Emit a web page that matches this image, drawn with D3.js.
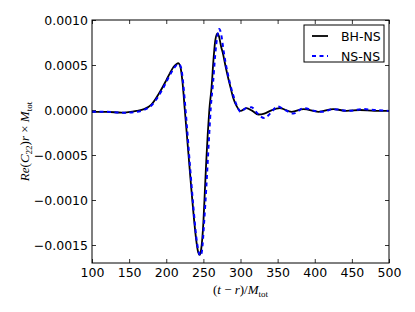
<!DOCTYPE html>
<html>
<head>
<meta charset="utf-8">
<script src="https://cdn.jsdelivr.net/npm/d3@7"></script>
<style>
  body { margin: 0; background: #fff; }
  .tick text { font-family: "DejaVu Sans", sans-serif; font-size: 12.5px; fill: #000; }
  .math { font-family: "Liberation Serif", "DejaVu Serif", serif; font-size: 13px; fill: #000; }
</style>
</head>
<body>
<div id="chart"></div>
<script>
// waveform samples
const bhnsT = [100, 120, 140, 160, 170, 180, 190, 200, 205, 210, 214, 216, 219, 222, 225, 228, 231, 234, 237, 240, 243, 245, 247,
  250, 252, 254, 256, 258, 261, 264, 266, 269, 271, 274, 276, 280, 283, 286, 290, 295, 300, 308, 316, 324, 332, 340, 353,
  369, 385, 405, 425, 443, 461, 480, 500];
const bhnsV = [-0.00002, -0.00002, -0.00003, -0.00001, 0.00001, 0.00006, 0.00018, 0.00033, 0.00041, 0.00048, 0.00051, 0.00052, 0.00048, 0.00030, 0.00000, -0.00030, -0.00060, -0.00090, -0.00118, -0.00142, -0.00158, -0.00161, -0.00155,
  -0.00125, -0.00090, -0.00055, -0.00025, 0.00000, 0.00025, 0.00060, 0.00077, 0.00085, 0.00082, 0.00070, 0.00064, 0.00048, 0.00037, 0.00027, 0.00014, 0.00004, -0.00001, 0.00002, -0.00001, -0.00005, -0.00004, -0.00001, 0.00002,
  -0.00002, 0.00001, -0.00002, 0.00001, -0.00001, 0.00000, -0.00001, -0.00001];

const nsnsT = [100, 120, 140, 160, 170, 180, 190, 200, 205, 210, 214, 217, 220, 222, 225, 228, 231, 234, 237, 240, 243, 246, 248,
  251, 254, 256, 258, 260, 263, 266, 269, 271.5, 274, 277, 280, 283, 286, 290, 295, 300, 307, 315, 322, 332, 340, 350, 358,
  371, 385, 400, 410, 425, 445, 465, 480, 500];
const nsnsV = [-0.00002, -0.00002, -0.00003, -0.00002, 0.00000, 0.00005, 0.00016, 0.00031, 0.00039, 0.00046, 0.00050, 0.00051, 0.00047, 0.00036, 0.00010, -0.00020, -0.00052, -0.00083, -0.00112, -0.00138, -0.00155, -0.00162, -0.00157,
  -0.00125, -0.00085, -0.00055, -0.00025, 0.00003, 0.00030, 0.00062, 0.00083, 0.00090, 0.00084, 0.00067, 0.00052, 0.00040, 0.00029, 0.00017, 0.00005, -0.00002, 0.00002, 0.00003, -0.00003, -0.00009, -0.00004, 0.00004, 0.00001,
  -0.00004, 0.00002, -0.00001, -0.00002, 0.00001, -0.00001, 0.00001, 0.00000, -0.00001];

const xTicks = [100, 150, 200, 250, 300, 350, 400, 450, 500];
const yTicks = [-0.0015, -0.0010, -0.0005, 0.0000, 0.0005, 0.0010];
const seriesNames = ["BH-NS", "NS-NS"];

const width = 415, height = 312;
const margin = {top: 20, right: 26, bottom: 49, left: 92};
const innerW = width - margin.left - margin.right;
const innerH = height - margin.top - margin.bottom;

const svg = d3.select("#chart").append("svg")
  .attr("width", width)
  .attr("height", height);

const g = svg.append("g")
  .attr("transform", `translate(${margin.left},${margin.top})`);

const x = d3.scaleLinear().domain([100, 500]).range([0, innerW]);
const y = d3.scaleLinear().domain([-0.0017, 0.0010]).range([innerH, 0]);

// axes, ticks pointing inward like matplotlib classic
g.append("g")
  .attr("transform", `translate(0,${innerH})`)
  .call(d3.axisBottom(x).tickValues(xTicks).tickSizeInner(-4).tickSizeOuter(0).tickPadding(5).tickFormat(d3.format("d")));
g.append("g")
  .call(d3.axisTop(x).tickValues(xTicks).tickSizeInner(-4).tickSizeOuter(0).tickFormat(""));
g.append("g")
  .call(d3.axisLeft(y).tickValues(yTicks).tickSizeInner(-4).tickSizeOuter(0).tickPadding(4).tickFormat(d3.format(".4f")));
g.append("g")
  .attr("transform", `translate(${innerW},0)`)
  .call(d3.axisRight(y).tickValues(yTicks).tickSizeInner(-4).tickSizeOuter(0).tickFormat(""));

g.selectAll(".domain").remove();
g.selectAll(".tick line").attr("stroke", "#000").attr("stroke-width", 0.8);

const line = d3.line()
  .x(d => x(d[0]))
  .y(d => y(d[1]))
  .curve(d3.curveMonotoneX);

svg.append("clipPath").attr("id", "clip")
  .append("rect").attr("width", innerW).attr("height", innerH);

const plot = g.append("g").attr("clip-path", "url(#clip)");

plot.append("path")
  .datum(d3.zip(bhnsT, bhnsV))
  .attr("fill", "none")
  .attr("stroke", "#000")
  .attr("stroke-width", 1.8)
  .attr("d", line);

plot.append("path")
  .datum(d3.zip(nsnsT, nsnsV))
  .attr("fill", "none")
  .attr("stroke", "#0000ff")
  .attr("stroke-width", 2)
  .attr("stroke-dasharray", "4,3.5")
  .attr("d", line);

// frame
g.append("rect")
  .attr("width", innerW)
  .attr("height", innerH)
  .attr("fill", "none")
  .attr("stroke", "#000")
  .attr("stroke-width", 1);

// legend
const lg = svg.append("g").attr("transform", "translate(304,25)");
lg.append("rect")
  .attr("width", 80).attr("height", 37)
  .attr("fill", "#fff").attr("stroke", "#000").attr("stroke-width", 1);
const styles = [{stroke: "#000", dash: null, w: 1.8}, {stroke: "#0000ff", dash: "4,3.5", w: 2}];
seriesNames.forEach((name, i) => {
  const yy = 11 + i * 20;
  lg.append("line")
    .attr("x1", 8).attr("x2", 24).attr("y1", yy).attr("y2", yy)
    .attr("stroke", styles[i].stroke).attr("stroke-width", styles[i].w)
    .attr("stroke-dasharray", styles[i].dash);
  lg.append("text")
    .attr("x", 37).attr("y", yy + 4.5)
    .style("font-family", "DejaVu Sans, sans-serif")
    .style("font-size", "12.5px")
    .text(name);
});

// x label: (t - r)/M_tot
const xl = svg.append("text").attr("class", "math")
  .attr("x", margin.left + innerW / 2).attr("y", 294)
  .attr("text-anchor", "middle");
xl.append("tspan").text("(");
xl.append("tspan").attr("font-style", "italic").text("t");
xl.append("tspan").text(" \u2212 ");
xl.append("tspan").attr("font-style", "italic").text("r");
xl.append("tspan").text(")/");
xl.append("tspan").attr("font-style", "italic").text("M");
xl.append("tspan").attr("font-size", "9px").attr("dy", 2.5).text("tot");

// y label: Re(C_22) r x M_tot
const yl = svg.append("text").attr("class", "math")
  .attr("transform", `translate(29,${margin.top + innerH / 2}) rotate(-90)`)
  .attr("text-anchor", "middle");
yl.append("tspan").attr("font-style", "italic").text("Re");
yl.append("tspan").text("(");
yl.append("tspan").attr("font-style", "italic").text("C");
yl.append("tspan").attr("font-size", "9px").attr("dy", 2.5).text("22");
yl.append("tspan").attr("dy", -2.5).text(")");
yl.append("tspan").attr("font-style", "italic").text("r");
yl.append("tspan").text(" \u00d7 ");
yl.append("tspan").attr("font-style", "italic").text("M");
yl.append("tspan").attr("font-size", "9px").attr("dy", 2.5).text("tot");
</script>
</body>
</html>
